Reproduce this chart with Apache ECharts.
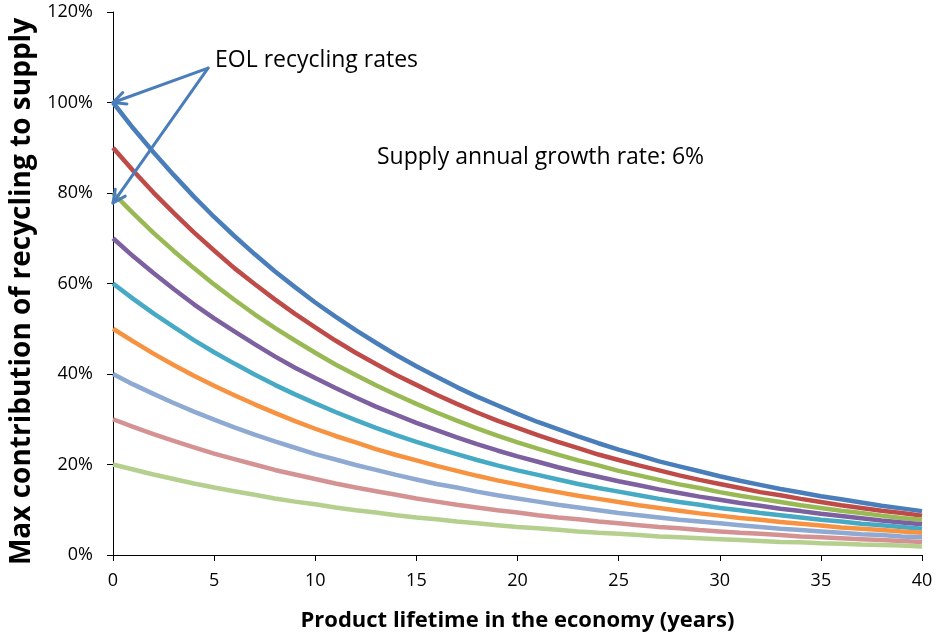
<!DOCTYPE html>
<html>
<head>
<meta charset="utf-8">
<script src="https://cdn.jsdelivr.net/npm/echarts@6/dist/echarts.min.js"></script>
<style>
  html, body { margin: 0; padding: 0; background: #fff; }
  #chart { width: 937px; height: 637px; }
</style>
</head>
<body>
<div id="chart"></div>
<script>
// Product lifetime (years) along the x axis
const years = [0,1,2,3,4,5,6,7,8,9,10,11,12,13,14,15,16,17,18,19,20,21,22,23,24,25,26,27,28,29,30,31,32,33,34,35,36,37,38,39,40];

// Max contribution of recycling to supply (%), one curve per EOL recycling rate
const eol100 = [100,94.3,89.0,84.0,79.2,74.7,70.5,66.5,62.7,59.2,55.8,52.7,49.7,46.9,44.2,41.7,39.4,37.1,35.0,33.1,31.2,29.4,27.8,26.2,24.7,23.3,22.0,20.7,19.6,18.5,17.4,16.4,15.5,14.6,13.8,13.0,12.3,11.6,10.9,10.3,9.7];
const eol90  = [90,84.9,80.1,75.6,71.3,67.3,63.4,59.9,56.5,53.3,50.3,47.4,44.7,42.2,39.8,37.6,35.4,33.4,31.5,29.7,28.1,26.5,25.0,23.6,22.2,21.0,19.8,18.7,17.6,16.6,15.7,14.8,13.9,13.2,12.4,11.7,11.0,10.4,9.8,9.3,8.7];
const eol80  = [80,75.5,71.2,67.2,63.4,59.8,56.4,53.2,50.2,47.4,44.7,42.1,39.8,37.5,35.4,33.4,31.5,29.7,28.0,26.4,24.9,23.5,22.2,20.9,19.8,18.6,17.6,16.6,15.6,14.8,13.9,13.1,12.4,11.7,11.0,10.4,9.8,9.3,8.7,8.2,7.8];
const eol70  = [70,66.0,62.3,58.8,55.4,52.3,49.4,46.6,43.9,41.4,39.1,36.9,34.8,32.8,31.0,29.2,27.6,26.0,24.5,23.1,21.8,20.6,19.4,18.3,17.3,16.3,15.4,14.5,13.7,12.9,12.2,11.5,10.9,10.2,9.7,9.1,8.6,8.1,7.6,7.2,6.8];
const eol60  = [60,56.6,53.4,50.4,47.5,44.8,42.3,39.9,37.6,35.5,33.5,31.6,29.8,28.1,26.5,25.0,23.6,22.3,21.0,19.8,18.7,17.7,16.7,15.7,14.8,14.0,13.2,12.4,11.7,11.1,10.4,9.9,9.3,8.8,8.3,7.8,7.4,6.9,6.6,6.2,5.8];
const eol50  = [50,47.2,44.5,42.0,39.6,37.4,35.3,33.3,31.4,29.6,27.9,26.3,24.9,23.4,22.1,20.9,19.7,18.6,17.5,16.5,15.6,14.7,13.9,13.1,12.4,11.7,11.0,10.4,9.8,9.2,8.7,8.2,7.8,7.3,6.9,6.5,6.1,5.8,5.5,5.2,4.9];
const eol40  = [40,37.7,35.6,33.6,31.7,29.9,28.2,26.6,25.1,23.7,22.3,21.1,19.9,18.8,17.7,16.7,15.7,14.9,14.0,13.2,12.5,11.8,11.1,10.5,9.9,9.3,8.8,8.3,7.8,7.4,7.0,6.6,6.2,5.8,5.5,5.2,4.9,4.6,4.4,4.1,3.9];
const eol30  = [30,28.3,26.7,25.2,23.8,22.4,21.2,20.0,18.8,17.8,16.8,15.8,14.9,14.1,13.3,12.5,11.8,11.1,10.5,9.9,9.4,8.8,8.3,7.9,7.4,7.0,6.6,6.2,5.9,5.5,5.2,4.9,4.7,4.4,4.1,3.9,3.7,3.5,3.3,3.1,2.9];
const eol20  = [20,18.9,17.8,16.8,15.8,14.9,14.1,13.3,12.5,11.8,11.2,10.5,9.9,9.4,8.8,8.3,7.9,7.4,7.0,6.6,6.2,5.9,5.6,5.2,4.9,4.7,4.4,4.1,3.9,3.7,3.5,3.3,3.1,2.9,2.8,2.6,2.5,2.3,2.2,2.1,1.9];

const seriesNames = ['100%','90%','80%','70%','60%','50%','40%','30%','20%'];
const seriesValues = [eol100, eol90, eol80, eol70, eol60, eol50, eol40, eol30, eol20];
const seriesColors = ['#4A7EBB','#BE4B48','#98B954','#7D60A0','#46AAC5','#F69240','#8EA9D2','#D59293','#B5CF8F'];

// Annotation arrows: start of both arrows and the points they indicate
const arrowStart = [4.7, 107.6];
const arrowTargets = [[0, 100], [0, 77.8]];

const FONT = '"Open Sans", Lato, sans-serif';

const chart = echarts.init(document.getElementById('chart'), null, { renderer: 'canvas' });

const series = seriesValues.map((vals, i) => ({
  name: seriesNames[i],
  type: 'line',
  data: years.map((y, k) => [y, vals[k]]),
  symbol: 'none',
  smooth: false,
  lineStyle: { width: 4.5, color: seriesColors[i] },
  itemStyle: { color: seriesColors[i] },
  z: 2
}));

chart.setOption({
  animation: false,
  backgroundColor: '#fff',
  grid: { left: 113, right: 15, top: 12, bottom: 82, containLabel: false, outerBoundsMode: 'none' },
  xAxis: {
    type: 'value', min: 0, max: 40, interval: 5,
    name: 'Product lifetime in the economy (years)',
    nameLocation: 'middle', nameGap: 55,
    nameTextStyle: { fontFamily: FONT, fontWeight: 'bold', fontSize: 22, color: '#000' },
    axisLine: { lineStyle: { color: '#000', width: 1 } },
    axisTick: { show: true, inside: false, length: 6, lineStyle: { color: '#000' } },
    axisLabel: { fontFamily: FONT, fontSize: 18, color: '#000', margin: 17 },
    splitLine: { show: false }
  },
  yAxis: {
    type: 'value', min: 0, max: 120, interval: 20,
    name: 'Max contribution of recycling to supply',
    nameLocation: 'middle', nameGap: 76, nameRotate: 90,
    nameTextStyle: { fontFamily: FONT, fontWeight: 'bold', fontSize: 28, color: '#000', padding: [0, 16, 0, 0] },
    axisLine: { show: true, lineStyle: { color: '#000', width: 1 } },
    axisTick: { show: true, inside: false, length: 6, lineStyle: { color: '#000' } },
    axisLabel: { fontFamily: FONT, fontSize: 18, color: '#000', margin: 20, formatter: '{value}%' },
    splitLine: { show: false }
  },
  series: series
});

// Annotation layer: texts and arrows placed from axis coordinates
function arrowShapes(from, to, color) {
  const p0 = chart.convertToPixel({ gridIndex: 0 }, from);
  const p1 = chart.convertToPixel({ gridIndex: 0 }, to);
  const ang = Math.atan2(p1[1] - p0[1], p1[0] - p0[0]);
  const head = 14, spread = 0.45;
  const a = [p1[0] - head * Math.cos(ang - spread), p1[1] - head * Math.sin(ang - spread)];
  const b = [p1[0] - head * Math.cos(ang + spread), p1[1] - head * Math.sin(ang + spread)];
  return [
    { type: 'line', shape: { x1: p0[0], y1: p0[1], x2: p1[0], y2: p1[1] },
      style: { stroke: color, lineWidth: 3, lineCap: 'round' }, z: 10 },
    { type: 'polyline', shape: { points: [a, p1, b] },
      style: { stroke: color, lineWidth: 3, lineCap: 'round', lineJoin: 'round', fill: null }, z: 10 }
  ];
}

const graphics = [];
arrowTargets.forEach(t => graphics.push(...arrowShapes(arrowStart, t, '#4A7EBB')));
const labelPos = chart.convertToPixel({ gridIndex: 0 }, arrowStart);
graphics.push({
  type: 'text', x: labelPos[0] + 7, y: labelPos[1] - 8,
  style: { text: 'EOL recycling rates', fontFamily: FONT, fontSize: 23, fill: '#000', textVerticalAlign: 'middle' },
  z: 11
});
graphics.push({
  type: 'text', x: 377, y: 157,
  style: { text: 'Supply annual growth rate: 6%', fontFamily: FONT, fontSize: 23, fill: '#000', textVerticalAlign: 'middle' },
  z: 11
});
chart.setOption({ graphic: graphics });
</script>
</body>
</html>
